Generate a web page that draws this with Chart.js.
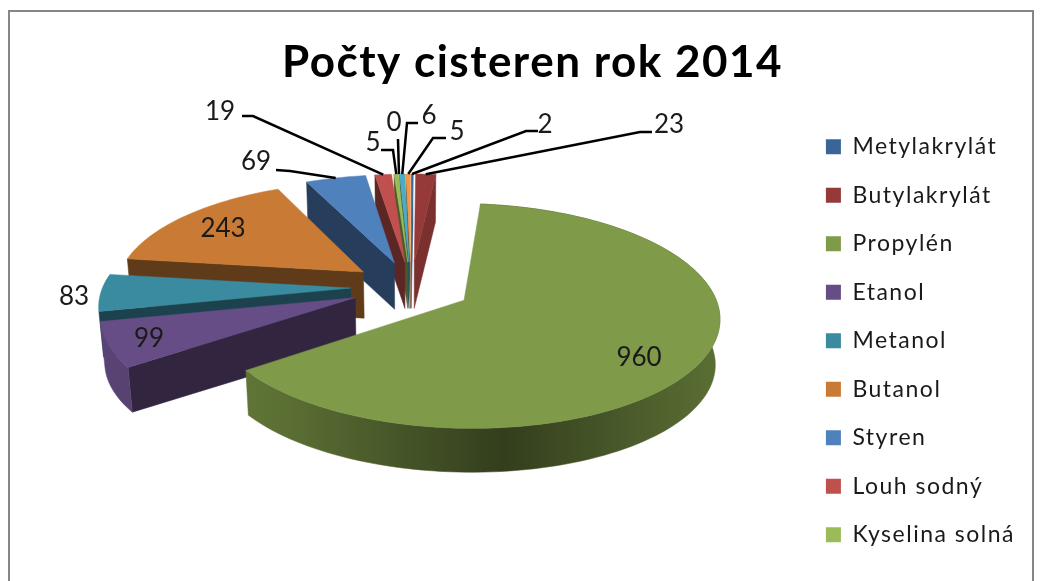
<!DOCTYPE html>
<html>
<head>
<meta charset="utf-8">
<title>Počty cisteren rok 2014</title>
<script src="https://cdn.jsdelivr.net/npm/chart.js@4/dist/chart.umd.min.js"></script>
<style>
html,body{margin:0;padding:0;background:#fff;overflow:hidden}
canvas{display:block}
</style>
</head>
<body>
<canvas id="cisterny" width="1045" height="581"></canvas>
<script>

/* DATA */

const chartTitle="Počty cisteren rok 2014"

// only the first nine names fit in the legend
const categories=["Metylakrylát","Butylakrylát","Propylén","Etanol","Metanol","Butanol","Styren","Louh sodný","Kyselina solná"]

const values=[2,23,960,99,83,243,69,19,5,0,6,5]

const colors=["#3a6599","#953a38","#7f9a48","#664d85","#3a8aa0","#c97a34","#4f81bd","#c0504d","#9bbb59","#8064a2","#4bacc6","#f79646"]


/* PIE GEOMETRY */

const PIE_X=411
const PIE_Y=287
const RX=248
const RY=106.5
const PERSP=0.138
const EXPLODE=0.243
const DEPTH=46
const FLOOR_SCALE=0.985

// where each value label sits, and the knot of its leader line
const labelSpots=[
  {x:545,y:125,path:[[538,131],[526,131]]},
  {x:669,y:125,path:[[652,132],[640,132]]},
  {x:639,y:358},
  {x:149,y:339},
  {x:74,y:297},
  {x:223,y:229},
  {x:256,y:162,path:[[276,170],[290,171]]},
  {x:220,y:112,path:[[242,116],[253,116]]},
  {x:373,y:143,path:[[381,150],[393,150]]},
  {x:394,y:123,path:[[398,139]]},
  {x:429,y:116,path:[[418,123],[407,123]]},
  {x:457,y:132,path:[[446,138],[433,138]]}
]


/* HELPERS */

function project(px,py,low){

  const w=1/(1-PERSP*py)
  let sx=PIE_X+RX*px*w
  let sy=PIE_Y+RY*py*w

  if(low){
    sx=PIE_X+(sx-PIE_X)*FLOOR_SCALE
    sy=PIE_Y+(sy-PIE_Y)*FLOOR_SCALE+DEPTH
  }

  return [sx,sy]
}

function shade(hex,f){

  const n=parseInt(hex.slice(1),16)
  const r=Math.round((n>>16&255)*f)
  const g=Math.round((n>>8&255)*f)
  const b=Math.round((n&255)*f)

  return `rgb(${r},${g},${b})`
}

function fillPoly(ctx,pts,fill){

  ctx.beginPath()
  pts.forEach((p,i)=>i?ctx.lineTo(p[0],p[1]):ctx.moveTo(p[0],p[1]))
  ctx.closePath()
  ctx.fillStyle=fill
  ctx.fill()
  ctx.strokeStyle=fill
  ctx.lineWidth=0.5
  ctx.stroke()
}

function sliceParts(arc){

  const mid=(arc.startAngle+arc.endAngle)/2
  const ox=Math.cos(mid)*EXPLODE
  const oy=Math.sin(mid)*EXPLODE

  const rim=[]
  const steps=Math.max(2,Math.ceil((arc.endAngle-arc.startAngle)/0.03))

  for(let i=0;i<=steps;i++){
    const a=arc.startAngle+(arc.endAngle-arc.startAngle)*i/steps
    rim.push([ox+Math.cos(a),oy+Math.sin(a)])
  }

  return {mid,ox,oy,rim}
}

function drawSlice(ctx,arc,color){

  const s=sliceParts(arc)

  const top=s.rim.map(p=>project(p[0],p[1],false))
  const low=s.rim.map(p=>project(p[0],p[1],true))
  const apexTop=project(s.ox,s.oy,false)
  const apexLow=project(s.ox,s.oy,true)
  const last=top.length-1
  const span=arc.endAngle-arc.startAngle

  /* cut face, only the one turned to the viewer and never on the big slice */

  if(span<Math.PI){
    if(Math.cos(s.mid)<0){
      fillPoly(ctx,[apexTop,top[0],low[0],apexLow],shade(color,0.48))
    }else{
      fillPoly(ctx,[apexTop,top[last],low[last],apexLow],shade(color,0.82))
    }
  }

  /* outer wall, darkest under the middle of the pie */

  if(Math.sin(s.mid)>0.2){

    const grad=ctx.createLinearGradient(100,0,720,0)
    grad.addColorStop(0,shade(color,0.88))
    grad.addColorStop(0.3,shade(color,0.72))
    grad.addColorStop(0.65,shade(color,0.4))
    grad.addColorStop(1,shade(color,0.72))

    fillPoly(ctx,top.concat(low.slice().reverse()),grad)
  }

  /* top face */

  fillPoly(ctx,[apexTop].concat(top),color)
}


/* 3D PIE PLUGIN - angles come from the arc elements of the pie controller */

const pie3d={

  id:"pie3d",

  // title and legend text run a little wide, the legend box has to know that
  beforeLayout(chart){
    chart.ctx.letterSpacing="1.5px"
  },

  beforeDraw(chart){

    const ctx=chart.ctx

    ctx.save()
    ctx.strokeStyle="#868686"
    ctx.lineWidth=2
    ctx.strokeRect(9,11,1024,600)
    ctx.restore()
  },

  beforeDatasetsDraw(chart){

    const ctx=chart.ctx
    const arcs=chart.getDatasetMeta(0).data

    const order=arcs.map((arc,i)=>i).filter(i=>values[i]>0)

    // paint from the back of the pie to the front
    order.sort((a,b)=>{
      const ma=(arcs[a].startAngle+arcs[a].endAngle)/2
      const mb=(arcs[b].startAngle+arcs[b].endAngle)/2
      return Math.sin(ma)-Math.sin(mb)
    })

    ctx.save()

    order.forEach(i=>drawSlice(ctx,arcs[i],colors[i]))

    /* value labels and leader lines */

    ctx.letterSpacing="0px"
    ctx.font="26px Lato"
    ctx.textAlign="center"
    ctx.textBaseline="middle"

    arcs.forEach((arc,i)=>{

      const spot=labelSpots[i]

      if(spot.path){

        const s=sliceParts(arc)
        const end=project(s.ox+Math.cos(s.mid),s.oy+Math.sin(s.mid),false)

        ctx.beginPath()
        spot.path.forEach((p,k)=>k?ctx.lineTo(p[0],p[1]):ctx.moveTo(p[0],p[1]))
        ctx.lineTo(end[0],end[1])
        ctx.strokeStyle="#000"
        ctx.lineWidth=2.5
        ctx.stroke()
      }

      ctx.fillStyle="#1a1a1a"
      ctx.fillText(String(values[i]),spot.x,spot.y)
    })

    ctx.restore()

    return false
  }
}


/* CHART */

new Chart(document.getElementById("cisterny"),{

  type:"pie",

  data:{
    labels:categories,
    datasets:[{
      data:values,
      backgroundColor:colors,
      borderWidth:0
    }]
  },

  options:{

    responsive:false,
    animation:false,

    layout:{
      padding:{left:40,right:20,top:0,bottom:0}
    },

    plugins:{

      tooltip:{enabled:false},

      title:{
        display:true,
        text:chartTitle,
        color:"#000",
        font:{family:"Lato",size:44,weight:"bold"},
        padding:{top:36,bottom:21}
      },

      legend:{
        position:"right",
        align:"start",
        fullSize:false,
        labels:{
          boxWidth:15,
          boxHeight:15,
          padding:25.5,
          color:"#1a1a1a",
          font:{family:"Lato",size:23}
        }
      }
    }
  },

  plugins:[pie3d]

})

</script>
</body>
</html>
